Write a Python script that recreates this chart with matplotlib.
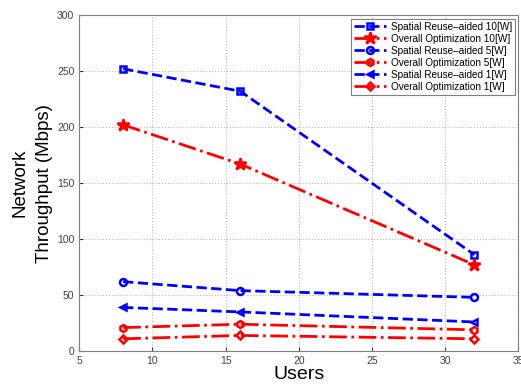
import matplotlib
matplotlib.use('Agg')
from matplotlib import pyplot as plt

plt.rcParams['font.family'] = ['Liberation Sans', 'DejaVu Sans']

users = [8, 16, 32]
spatial_10w = [252, 232, 86]
overall_10w = [202, 167, 77]
spatial_5w = [62, 54, 48]
overall_5w = [21, 24, 19]
spatial_1w = [39, 35, 26]
overall_1w = [11, 14, 11]

series = [
    ('Spatial Reuse\u2013aided 10[W]', spatial_10w, 'b', '--', 's'),
    ('Overall Optimization 10[W]', overall_10w, 'r', '-.', '*'),
    ('Spatial Reuse\u2013aided 5[W]', spatial_5w, 'b', '--', 'o'),
    ('Overall Optimization 5[W]', overall_5w, 'r', '-.', 'h'),
    ('Spatial Reuse\u2013aided 1[W]', spatial_1w, 'b', '--', '<'),
    ('Overall Optimization 1[W]', overall_1w, 'r', '-.', 'D'),
]

fig = plt.figure(figsize=(5.21, 3.85), dpi=100)
ax = fig.add_axes([0.152, 0.088, 0.843, 0.873])

for label, vals, col, ls, mk in series:
    ms = 9 if mk == '*' else 5
    if mk == 'D':
        ms = 4.5
    face = col if mk == '*' else 'none'
    ax.plot(users, vals, color=col, linestyle=ls, linewidth=2,
            marker=mk, markersize=ms, markerfacecolor=face,
            markeredgewidth=1.8, label=label)

ax.set_xlim(5, 35)
ax.set_ylim(0, 300)
ax.set_xticks(range(5, 36, 5))
ax.set_yticks(range(0, 301, 50))
ax.grid(True, linestyle=':', color='#b8b8b8', linewidth=0.8)
ax.tick_params(direction='in', labelsize=7.5, colors='#404040', length=3)
for s in ax.spines.values():
    s.set_color('#808080')

ax.set_xlabel('Users', fontsize=14, labelpad=0)
ax.set_ylabel('Network\nThroughput (Mbps)', fontsize=13.5, labelpad=3, linespacing=1.55)

leg = ax.legend(loc='upper right', fontsize=7.2, frameon=True, fancybox=False,
                edgecolor='#606060', handlelength=3.2, borderpad=0.3,
                labelspacing=0.2, handletextpad=0.5, borderaxespad=0.35)
leg.get_frame().set_linewidth(0.8)

fig.savefig('out.png', dpi=100)
